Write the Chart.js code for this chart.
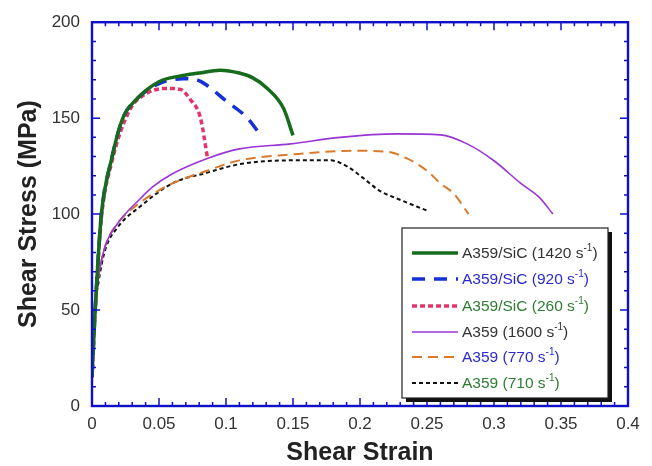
<!DOCTYPE html>
<html>
<head>
<meta charset="utf-8">
<script src="https://cdn.jsdelivr.net/npm/chart.js@4"></script>
<style>
  body { margin: 0; background: #fff; }
  #wrap { width: 652px; height: 466px; }
</style>
</head>
<body>
<div id="wrap"><canvas id="myChart" width="652" height="466"></canvas></div>
<script>
// series data: [strain, stress MPa]
var sic1420 = [[0,15],[0.002,45],[0.0045,76],[0.007,100],[0.0147,129],[0.023,150],[0.032,159],[0.05,169],[0.066,172],[0.08,173.5],[0.0955,175],[0.11,173.5],[0.12,171],[0.13,166],[0.143,155],[0.15,141]];
var sic920 = [[0,15],[0.002,45],[0.0045,76],[0.007,100],[0.0147,129],[0.023,150],[0.032,159],[0.05,168],[0.068,170.5],[0.078,170],[0.086,167],[0.1,159],[0.116,150],[0.127,140]];
var sic260 = [[0,15],[0.002,45],[0.0045,74],[0.007,98],[0.0147,127],[0.028,154],[0.041,163],[0.056,165.5],[0.066,165],[0.073,160],[0.081,150],[0.086,130]];
var a1600 = [[0,15],[0.001,35],[0.002,51],[0.005,68],[0.0097,83],[0.019,95],[0.036,108],[0.045,114],[0.06,121],[0.086,129],[0.11,134],[0.148,136.6],[0.185,140],[0.228,141.8],[0.26,141.3],[0.28,136.6],[0.3,127.8],[0.32,116],[0.334,108.6],[0.344,100]];
var a770 = [[0,15],[0.001,35],[0.002,51],[0.005,68],[0.0097,83],[0.019,95],[0.036,106],[0.06,116],[0.086,122.6],[0.11,128],[0.148,131],[0.195,133],[0.22,132.5],[0.235,129],[0.25,122.6],[0.26,116],[0.27,110.6],[0.281,100]];
var a710 = [[0,12],[0.001,32],[0.002,48],[0.005,65],[0.0097,81],[0.019,93],[0.036,104],[0.06,116],[0.086,121.6],[0.11,126],[0.148,128],[0.178,128],[0.19,125],[0.202,119],[0.215,112],[0.228,108],[0.25,101.8]];

var labels = ['A359/SiC (1420 s', 'A359/SiC (920 s', 'A359/SiC (260 s', 'A359 (1600 s', 'A359 (770 s', 'A359 (710 s'];
var labelColors = ['#333333', '#2a2ad0', '#2e7d32', '#333333', '#2a2ad0', '#2e7d32'];
var xTicks = [0, 0.05, 0.1, 0.15, 0.2, 0.25, 0.3, 0.35, 0.4];
var yTicks = [0, 50, 100, 150, 200];

var frameBlue = '#1010c8';

function pts(arr) {
  return arr.map(function (p) { return { x: p[0], y: p[1] }; });
}

var data = {
  datasets: [
    { label: labels[0], data: pts(sic1420), borderColor: '#166b1c', borderWidth: 3.5, borderDash: [] },
    { label: labels[1], data: pts(sic920), borderColor: '#1530d8', borderWidth: 3.5, borderDash: [13, 9] },
    { label: labels[2], data: pts(sic260), borderColor: '#e3356a', borderWidth: 3.5, borderDash: [5, 3] },
    { label: labels[3], data: pts(a1600), borderColor: '#9a35d6', borderWidth: 1.6, borderDash: [] },
    { label: labels[4], data: pts(a770), borderColor: '#d97a2b', borderWidth: 2, borderDash: [10, 6] },
    { label: labels[5], data: pts(a710), borderColor: '#111111', borderWidth: 2, borderDash: [4, 3] }
  ]
};

// inward ticks on all four sides + frame
var frameTicks = {
  id: 'frameTicks',
  afterDatasetsDraw: function (chart) {
    var c = chart.ctx, a = chart.chartArea;
    var xs = chart.scales.x, ys = chart.scales.y;
    c.save();
    c.strokeStyle = frameBlue;
    c.lineWidth = 1.5;
    c.beginPath();
    for (var i = 0; i <= 40; i++) {
      var px = xs.getPixelForValue(i * 0.01);
      var len = (i % 5 === 0) ? 8 : 4;
      c.moveTo(px, a.bottom); c.lineTo(px, a.bottom - len);
      c.moveTo(px, a.top); c.lineTo(px, a.top + len);
    }
    for (var j = 0; j <= 20; j++) {
      var py = ys.getPixelForValue(j * 10);
      var l2 = (j % 5 === 0) ? 8 : 4;
      c.moveTo(a.left, py); c.lineTo(a.left + l2, py);
      c.moveTo(a.right, py); c.lineTo(a.right - l2, py);
    }
    c.stroke();
    c.lineWidth = 2.4;
    c.strokeRect(a.left, a.top, a.right - a.left, a.bottom - a.top);
    c.restore();
  }
};

// legend box inside the plot
var boxLegend = {
  id: 'boxLegend',
  afterDraw: function (chart) {
    var c = chart.ctx;
    var bx = 402, by = 228, bw = 206, bh = 170;
    c.save();
    c.fillStyle = '#111';
    c.fillRect(bx + 4, by + 4, bw, bh);
    c.fillStyle = '#fff';
    c.fillRect(bx, by, bw, bh);
    c.strokeStyle = '#222';
    c.lineWidth = 1.2;
    c.strokeRect(bx, by, bw, bh);
    var rows = [253, 279, 306, 332, 357, 383];
    chart.data.datasets.forEach(function (ds, i) {
      var y = rows[i];
      c.strokeStyle = ds.borderColor;
      c.lineWidth = ds.borderWidth;
      c.setLineDash(ds.borderDash);
      c.beginPath();
      c.moveTo(412, y); c.lineTo(458, y);
      c.stroke();
      c.setLineDash([]);
      c.fillStyle = labelColors[i];
      c.font = '15.5px "Liberation Sans", Arial, sans-serif';
      c.textBaseline = 'middle';
      c.textAlign = 'left';
      var w = c.measureText(ds.label).width;
      c.fillText(ds.label, 462, y + 1);
      c.font = '10px "Liberation Sans", Arial, sans-serif';
      c.fillText('-1', 462 + w, y - 5);
      var w2 = c.measureText('-1').width;
      c.font = '15.5px "Liberation Sans", Arial, sans-serif';
      c.fillText(')', 462 + w + w2, y + 1);
    });
    c.restore();
  }
};

var options = {
  responsive: false,
  animation: false,
  layout: { padding: { left: 0, right: 24, top: 21, bottom: 0 } },
  elements: { point: { radius: 0 }, line: { cubicInterpolationMode: 'monotone', fill: false } },
  plugins: { legend: { display: false }, tooltip: { enabled: false } },
  scales: {
    x: {
      type: 'linear', min: 0, max: 0.4,
      afterFit: function (s) { s.height = 60; },
      afterBuildTicks: function (s) { s.ticks = xTicks.map(function (v) { return { value: v }; }); },
      grid: { drawOnChartArea: false, drawTicks: false },
      border: { color: frameBlue, width: 2 },
      ticks: {
        padding: 8, color: '#333', font: { family: '"Liberation Sans", Arial', size: 17 },
        maxRotation: 0, autoSkip: false,
        callback: function (v) { return String(Number(v.toFixed(2))); }
      },
      title: {
        display: true, text: 'Shear Strain', color: '#222',
        font: { family: '"Liberation Sans", Arial', size: 25, weight: 'bold', lineHeight: 1 },
        padding: { top: 8, bottom: 0 }
      }
    },
    y: {
      type: 'linear', min: 0, max: 200,
      afterFit: function (s) { s.width = 92; },
      afterBuildTicks: function (s) { s.ticks = yTicks.map(function (v) { return { value: v }; }); },
      grid: { drawOnChartArea: false, drawTicks: false },
      border: { color: frameBlue, width: 2 },
      ticks: {
        padding: 12, color: '#333', font: { family: '"Liberation Sans", Arial', size: 17 }
      },
      title: {
        display: true, text: 'Shear Stress (MPa)', color: '#222',
        font: { family: '"Liberation Sans", Arial', size: 25, weight: 'bold', lineHeight: 1 },
        padding: { top: 17, bottom: 0 }
      }
    }
  }
};

var ctx = document.getElementById('myChart').getContext('2d');
var myChart = new Chart(ctx, {
  type: 'line',
  data: data,
  options: options,
  plugins: [frameTicks, boxLegend]
});
</script>
</body>
</html>
